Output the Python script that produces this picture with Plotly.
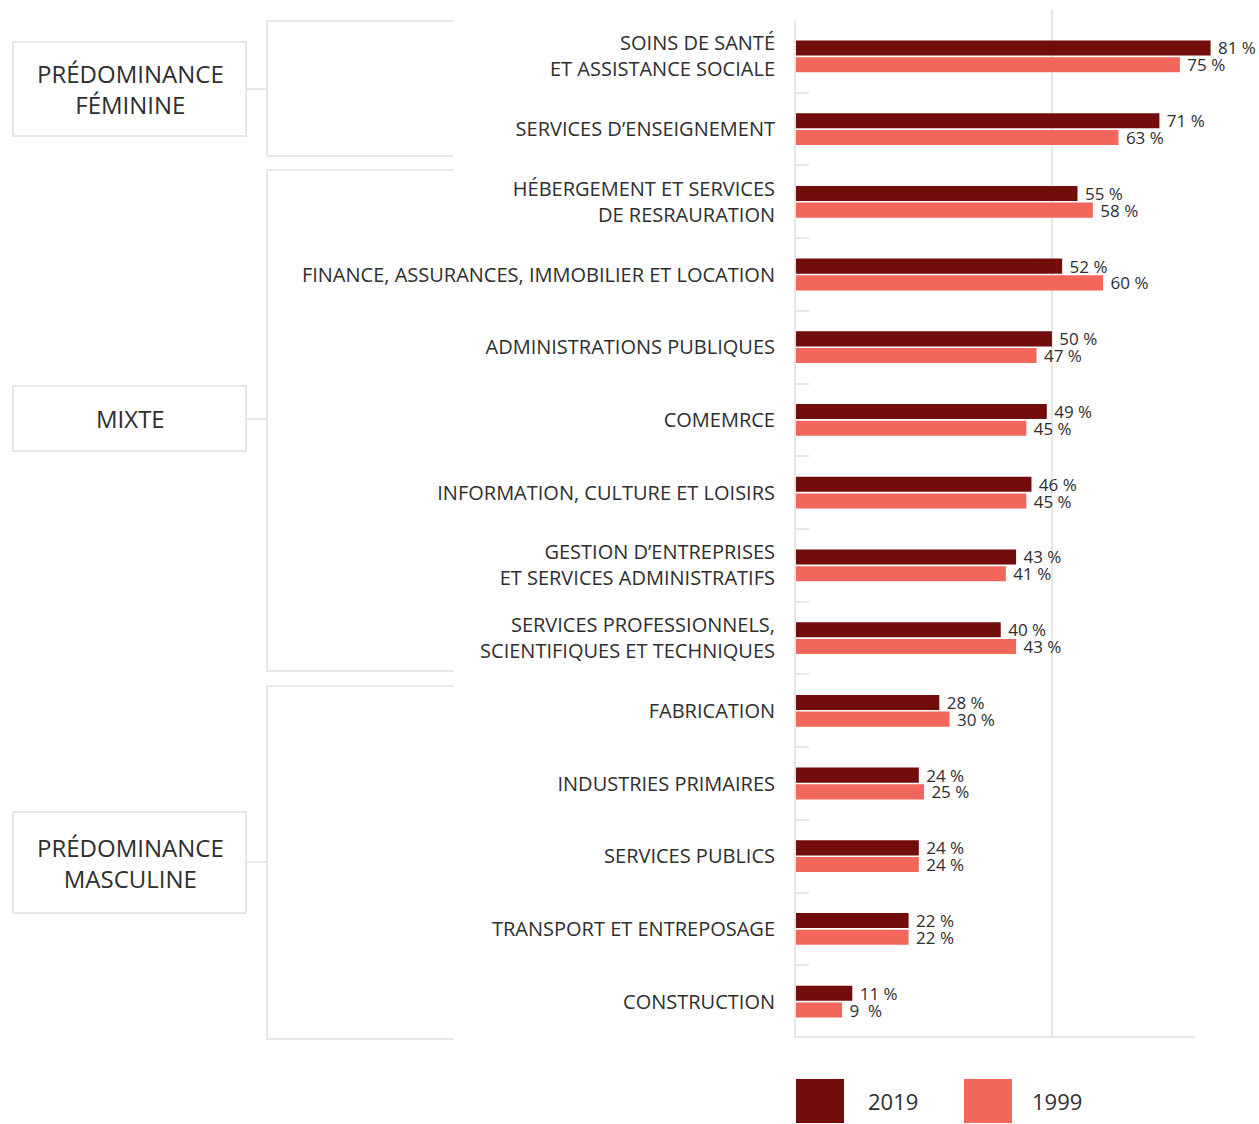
import plotly.graph_objects as go

sectors = [
    "SOINS DE SANTÉ<br>ET ASSISTANCE SOCIALE",
    "SERVICES D’ENSEIGNEMENT",
    "HÉBERGEMENT ET SERVICES<br>DE RESRAURATION",
    "FINANCE, ASSURANCES, IMMOBILIER ET LOCATION",
    "ADMINISTRATIONS PUBLIQUES",
    "COMEMRCE",
    "INFORMATION, CULTURE ET LOISIRS",
    "GESTION D’ENTREPRISES<br>ET SERVICES ADMINISTRATIFS",
    "SERVICES PROFESSIONNELS,<br>SCIENTIFIQUES ET TECHNIQUES",
    "FABRICATION",
    "INDUSTRIES PRIMAIRES",
    "SERVICES PUBLICS",
    "TRANSPORT ET ENTREPOSAGE",
    "CONSTRUCTION",
]
share_2019 = [81, 71, 55, 52, 50, 49, 46, 43, 40, 28, 24, 24, 22, 11]
share_1999 = [75, 63, 58, 60, 47, 45, 45, 41, 43, 30, 25, 24, 22, 9]
groups = ["PRÉDOMINANCE<br>FÉMININE", "MIXTE", "PRÉDOMINANCE<br>MASCULINE"]
years = ["2019", "1999"]

DARK = "#730d0b"
SALMON = "#f2665c"
GREY = "#e6e6e6"
TXT = "#2e2e2e"
FONT = "Open Sans"

W, H = 1259, 1124
L, R, T, B = 796, 1250, 20, 1038  # plot area in pixels


def px(x):
    return (x - L) / (R - L)


def py(y):
    return (B - y) / (B - T)


def lab(v):
    # leading space gives the gap between bar end and label
    return (f" {v:<2} %").replace(" ", "\u00a0")


fig = go.Figure()
for name, vals, col in [(years[0], share_2019, DARK), (years[1], share_1999, SALMON)]:
    fig.add_trace(go.Bar(
        y=sectors, x=vals, orientation="h", name=name,
        marker=dict(color=col, line=dict(width=0)),
        text=[lab(v) for v in vals], textposition="outside", constraintext="none",
        textfont=dict(family=FONT, size=17, color=TXT),
        cliponaxis=False, showlegend=False, hoverinfo="skip",
    ))

shapes = []
annotations = []

# bottom axis line and 50 % gridline
shapes.append(dict(type="line", xref="paper", yref="paper", x0=px(795), x1=px(1195),
                   y0=py(1037), y1=py(1037), line=dict(color=GREY, width=2)))
shapes.append(dict(type="line", xref="x", yref="paper", x0=50, x1=50,
                   y0=py(1037), y1=py(10), line=dict(color=GREY, width=2), layer="below"))

# brackets + group boxes
brackets = [(21, 156, 89), (170, 671, 419), (686, 1039, 862)]
boxes = [(42, 136), (386, 451), (812, 913)]
for (top, bot, mid), (bt, bb), g in zip(brackets, boxes, groups):
    shapes.append(dict(type="path", xref="paper", yref="paper",
                       path=f"M {px(453)} {py(top)} L {px(267)} {py(top)} L {px(267)} {py(bot)} L {px(453)} {py(bot)}",
                       line=dict(color=GREY, width=2)))
    shapes.append(dict(type="rect", xref="paper", yref="paper",
                       x0=px(13), x1=px(246), y0=py(bb), y1=py(bt),
                       line=dict(color=GREY, width=2), fillcolor="white"))
    shapes.append(dict(type="line", xref="paper", yref="paper",
                       x0=px(246), x1=px(267), y0=py(mid), y1=py(mid),
                       line=dict(color=GREY, width=2)))
    annotations.append(dict(xref="paper", yref="paper", x=px(130), y=py((bt + bb) / 2),
                            text=g, showarrow=False, xanchor="center", yanchor="middle",
                            font=dict(family=FONT, size=24, color=TXT)))

# legend drawn by hand so the swatches can be large
for x0, col, name, tx in [(796, DARK, years[0], 866), (964, SALMON, years[1], 1030)]:
    shapes.append(dict(type="rect", xref="paper", yref="paper",
                       x0=px(x0), x1=px(x0 + 48), y0=py(1123), y1=py(1079),
                       line=dict(width=0), fillcolor=col))
    annotations.append(dict(xref="paper", yref="paper", x=px(tx), y=py(1101),
                            text=name, showarrow=False, xanchor="left", yanchor="middle",
                            font=dict(family=FONT, size=22, color=TXT)))

fig.update_layout(
    width=W, height=H,
    margin=dict(l=L, r=W - R, t=T, b=H - B),
    paper_bgcolor="white", plot_bgcolor="white",
    barmode="group", bargap=0.54, bargroupgap=0.1,
    font=dict(family=FONT, color=TXT),
    shapes=shapes, annotations=annotations,
    xaxis=dict(range=[0, 88.7], showgrid=False, zeroline=False, showticklabels=False,
               showline=False, fixedrange=True),
    yaxis=dict(autorange="reversed", showgrid=False, zeroline=False, fixedrange=True,
               showline=True, linecolor=GREY, linewidth=2,
               ticks="inside", tickson="boundaries", ticklen=13, tickcolor=GREY, tickwidth=2,
               ticklabelstandoff=15,
               tickfont=dict(family=FONT, size=20, color=TXT)),
)

# drop the default body margin so the figure fills the window exactly
fig.write_html("out.html", config={"displayModeBar": False},
               post_script="document.body.style.margin = '0';")
